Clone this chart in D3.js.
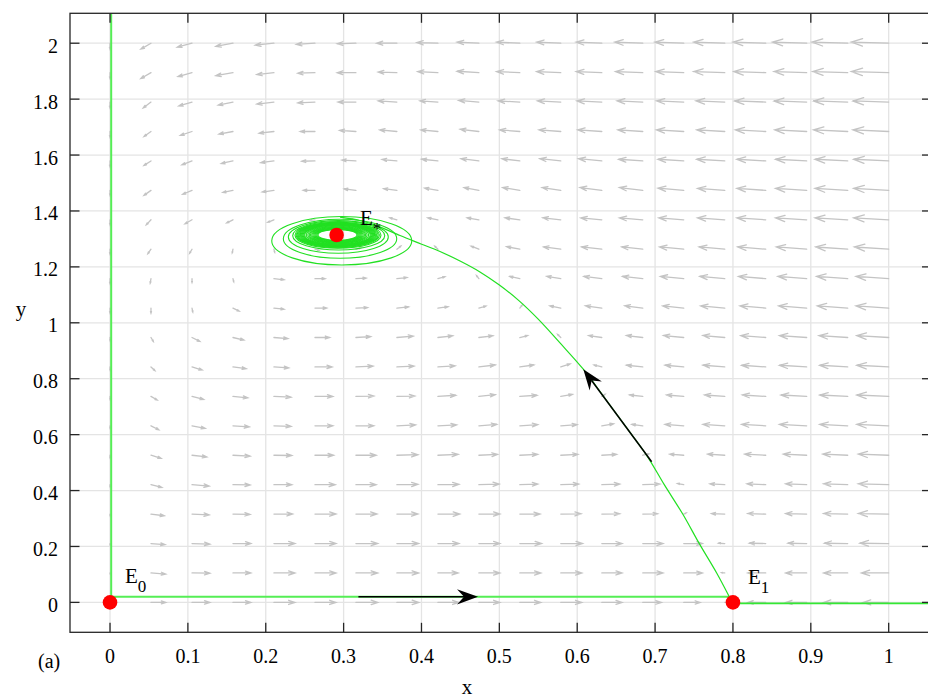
<!DOCTYPE html>
<html><head><meta charset="utf-8">
<script src="https://cdn.jsdelivr.net/npm/d3@7"></script>
<style>
body{margin:0;background:#fff}
svg{display:block}
</style>
</head><body>
<svg id="c" width="928" height="698"></svg>
<script>
// ---------- data ----------
const xTicks = [0,0.1,0.2,0.3,0.4,0.5,0.6,0.7,0.8,0.9,1];
const xTickLabels = ["0","0.1","0.2","0.3","0.4","0.5","0.6","0.7","0.8","0.9","1"];
const yTicks = [0,0.2,0.4,0.6,0.8,1,1.2,1.4,1.6,1.8,2];
const yTickLabels = ["0","0.2","0.4","0.6","0.8","1","1.2","1.4","1.6","1.8","2"];

// quiver grid
const fieldX = [0,0.0526,0.1053,0.1579,0.2105,0.2632,0.3158,0.3684,0.4211,0.4737,0.5263,0.5789,0.6316,0.6842,0.7368,0.7895,0.8421,0.8947,0.9474,1];
const fieldY = [0,0.1053,0.2105,0.3158,0.4211,0.5263,0.6316,0.7368,0.8421,0.9474,1.0526,1.1579,1.2632,1.3684,1.4737,1.5789,1.6842,1.7895,1.8947,2];
// arrow components (thousandths of an axis unit), rows from y=0 upward
const fieldU = [
[0,19,23,23,27,27,28,28,27,27,27,27,26,24,21,8,-23,-27,-31,-33],
[0,19,23,23,27,27,28,28,26,27,27,27,26,26,24,-4,-23,-27,-31,-35],
[0,18,23,23,27,27,28,28,27,27,28,28,26,26,24,-8,-21,-24,-30,-37],
[0,17,22,22,24,27,27,27,28,27,26,26,23,19,3,-17,-23,-27,-31,-39],
[0,14,22,22,23,26,26,27,27,26,23,23,23,22,-8,-19,-24,-27,-31,-39],
[0,13,19,22,23,24,26,27,26,24,23,22,19,8,-18,-22,-27,-30,-32,-39],
[0,10,17,21,22,23,23,24,24,23,23,21,15,-14,-24,-28,-31,-35,-36,-41],
[0,8,15,19,22,23,23,23,23,21,22,15,4,-17,-22,-26,-30,-33,-36,-41],
[0,5,13,17,19,22,22,22,22,21,18,12,-10,-21,-24,-28,-31,-35,-36,-41],
[0,3,10,14,18,19,19,21,19,18,10,-4,-17,-21,-26,-28,-32,-35,-37,-41],
[0,0,1,8,13,15,15,15,13,9,3,-14,-21,-23,-27,-31,-33,-36,-39,-42],
[0,-1,0,1,13,13,13,13,9,-3,-13,-18,-23,-26,-30,-32,-35,-37,-40,-42],
[0,-4,-3,-1,1,5,6,5,-4,-10,-17,-22,-26,-27,-31,-33,-36,-39,-41,-44],
[0,-6,-9,-8,-8,-6,-6,-9,-13,-15,-19,-23,-27,-30,-32,-35,-37,-40,-42,-45],
[0,-9,-12,-13,-15,-15,-15,-17,-17,-19,-22,-24,-28,-30,-33,-35,-37,-40,-42,-45],
[0,-9,-13,-15,-17,-17,-18,-19,-21,-23,-23,-27,-30,-31,-33,-36,-37,-40,-42,-45],
[0,-9,-15,-18,-19,-19,-21,-22,-22,-24,-26,-28,-31,-32,-35,-36,-39,-41,-44,-46],
[0,-10,-17,-19,-22,-22,-23,-24,-23,-26,-28,-30,-32,-33,-35,-37,-40,-42,-44,-46],
[0,-13,-18,-22,-22,-22,-24,-24,-26,-28,-30,-31,-33,-35,-36,-40,-41,-42,-45,-48],
[0,-13,-19,-22,-24,-24,-24,-26,-27,-28,-30,-31,-33,-36,-37,-40,-42,-44,-46,-48]
];
const fieldV = [
[0,0,0,0,0,0,0,0,0,0,0,0,0,0,0,0,0,0,0,0],
[-2,-4,-1,0,0,0,0,0,0,0,0,0,0,0,0,1,0,0,0,0],
[-4,-4,-2,0,0,0,0,0,0,0,0,0,0,0,0,1,1,1,1,1],
[-5,-6,-3,-1,0,0,0,0,0,0,0,1,1,1,4,2,2,2,2,2],
[-7,-10,-5,-1,0,0,0,1,1,2,2,2,2,2,4,3,3,3,3,3],
[-9,-11,-6,-3,-1,0,0,2,3,3,3,3,3,5,4,4,4,4,4,4],
[-9,-14,-9,-4,-2,0,0,3,3,5,4,4,7,5,5,5,5,5,5,5],
[-11,-13,-11,-5,-3,0,1,1,4,6,4,7,7,5,5,5,5,5,5,5],
[-11,-13,-11,-6,-3,0,3,3,4,7,7,11,7,6,6,6,6,6,6,6],
[-11,-14,-14,-9,-4,0,3,5,6,6,7,11,7,7,7,7,7,7,7,7],
[-18,-18,-14,-11,-4,0,2,4,5,7,11,8,8,8,8,8,8,8,8,8],
[-18,-16,-14,-11,-4,0,2,4,7,11,8,8,8,8,8,8,8,8,8,8],
[-18,-16,-14,-13,-11,-4,4,11,11,11,9,8,8,8,8,8,8,8,8,8],
[-18,-18,-14,-11,-9,-2,4,7,7,7,7,7,7,7,7,7,7,7,7,7],
[-18,-18,-14,-7,-6,0,5,6,8,10,10,10,10,10,8,7,7,7,7,7],
[-21,-16,-14,-9,-6,-1,3,5,6,8,8,8,8,6,6,6,6,6,6,6],
[-21,-18,-14,-9,-6,0,4,6,6,8,6,6,6,6,6,6,6,6,6,6],
[-21,-21,-14,-11,-7,-3,0,4,4,6,4,4,4,4,4,4,4,4,4,4],
[-21,-21,-14,-11,-7,-2,0,2,4,5,4,4,4,4,4,4,4,4,4,4],
[-21,-21,-14,-11,-7,-4,-2,0,2,4,4,4,4,4,4,4,4,4,4,4]
];
const fieldUnit = 0.001;

// trajectory: down the y-axis, along the x-axis
const axisTrajX = [0.0015,0.0015,0.7953];
const axisTrajY = [2.11,0.02,0.02];
// unstable manifold of E1 running up to E*
const curveX = [0.7953,0.7791,0.7568,0.7355,0.7118,0.6892,0.6614,0.6335,0.6078,0.5779,0.5496,0.5240,0.4996,0.4751,0.4495,0.4238,0.3994,0.3724,0.3442,0.3210,0.2954];
const curveY = [0.020,0.105,0.210,0.316,0.421,0.526,0.632,0.738,0.834,0.928,1.014,1.082,1.136,1.182,1.221,1.255,1.282,1.312,1.346,1.366,1.378];
// trajectory coming from the right along the x-axis into E1
const traj2X = [1.07,0.8];
const traj2Y = [-0.0036,-0.0036];

// spiral loops around E*
const loopCx = [0.2976,0.2954,0.2932,0.2937,0.2928,0.2925,0.2923,0.2921,0.2921,0.2921,0.2921,0.2921,0.2921,0.2921,0.2921,0.2921,0.2921,0.2921,0.2921,0.2921,0.2921,0.2921,0.2921,0.2921,0.2921,0.2921];
const loopCy = [1.2934,1.3005,1.3070,1.3113,1.3131,1.3136,1.3139,1.3141,1.3141,1.3141,1.3141,1.3141,1.3141,1.3141,1.3141,1.3141,1.3141,1.3141,1.3141,1.3141,1.3141,1.3141,1.3141,1.3141,1.3141,1.3141];
const loopRx = [0.0899,0.0728,0.0642,0.0591,0.0552,0.0535,0.0520,0.0505,0.0492,0.0478,0.0466,0.0454,0.0443,0.0432,0.0421,0.0401,0.0381,0.0363,0.0347,0.0331,0.0316,0.0302,0.0289,0.0276,0.0263,0.0250];
const loopRy = [0.0866,0.0698,0.0583,0.0508,0.0465,0.0450,0.0436,0.0423,0.0411,0.0400,0.0390,0.0379,0.0369,0.0358,0.0347,0.0329,0.0311,0.0293,0.0279,0.0265,0.0250,0.0240,0.0229,0.0218,0.0208,0.0197];

// equilibria
const eqNames = ["E","E","E"];
const eqSubs = ["0","1","*"];
const eqX = [0,0.8,0.291];
const eqY = [0,0,1.314];

// direction arrows (tail -> tip)
const dirTailX = [0.319,0.6956];
const dirTailY = [0.02,0.503];
const dirTipX = [0.4726,0.6078];
const dirTipY = [0.02,0.834];

// ---------- drawing ----------
const FONT = "Liberation Serif";
const svg = d3.select("#c");
const x = d3.scaleLinear().domain([-0.0514,1.055]).range([70,931.5]);
const y = d3.scaleLinear().domain([-0.107,2.107]).range([632.3,13.3]);
const L = x.range()[0], R = x.range()[1], T = y.range()[1], B = y.range()[0];

svg.append("defs").append("clipPath").attr("id","clip")
  .append("rect").attr("x",L).attr("y",T).attr("width",R-L).attr("height",B-T);
const plot = svg.append("g").attr("clip-path","url(#clip)");

// grid
plot.append("g").selectAll("line").data(xTicks).join("line")
  .attr("x1",d=>x(d)).attr("x2",d=>x(d)).attr("y1",T).attr("y2",B)
  .attr("stroke","#e4e4e4").attr("stroke-width",1.3);
plot.append("g").selectAll("line").data(yTicks).join("line")
  .attr("y1",d=>y(d)).attr("y2",d=>y(d)).attr("x1",L).attr("x2",R)
  .attr("stroke","#e4e4e4").attr("stroke-width",1.3);

// quiver
const arrows = [];
fieldY.forEach((yy,j)=>fieldX.forEach((xx,i)=>{
  const u = fieldU[j][i]*fieldUnit, v = fieldV[j][i]*fieldUnit;
  const x0 = x(xx), y0 = y(yy), x1 = x(xx+u), y1 = y(yy+v);
  const len = Math.hypot(x1-x0,y1-y0);
  if (len < 0.5) return;
  const dx=(x1-x0)/len, dy=(y1-y0)/len, nx=-dy, ny=dx;
  const h=0.3*len, w=0.1*len;
  arrows.push(`M${x0},${y0}L${x1},${y1}M${x1-dx*h+nx*w},${y1-dy*h+ny*w}L${x1},${y1}L${x1-dx*h-nx*w},${y1-dy*h-ny*w}`);
}));
plot.append("path").attr("d",arrows.join("")).attr("fill","none")
  .attr("stroke","#c4c4c4").attr("stroke-width",1.3).attr("stroke-linecap","round");

// trajectories
plot.append("path").attr("d",d3.line().x(d=>x(d[0])).y(d=>y(d[1]))(axisTrajX.map((d,i)=>[d,axisTrajY[i]])))
  .attr("fill","none").attr("stroke","#55ee55").attr("stroke-width",2);
plot.append("path").attr("d",d3.line().x(d=>x(d[0])).y(d=>y(d[1])).curve(d3.curveCatmullRom)(curveX.map((d,i)=>[d,curveY[i]])))
  .attr("fill","none").attr("stroke","#22e022").attr("stroke-width",1.2);
plot.append("path").attr("d",d3.line().x(d=>x(d[0])).y(d=>y(d[1]))(traj2X.map((d,i)=>[d,traj2Y[i]])))
  .attr("fill","none").attr("stroke","#33e833").attr("stroke-width",1.6);

// spiral loops
plot.append("g").selectAll("ellipse").data(loopRx).join("ellipse")
  .attr("cx",(d,i)=>x(loopCx[i])).attr("cy",(d,i)=>y(loopCy[i]))
  .attr("rx",(d,i)=>x(loopCx[i]+d)-x(loopCx[i]))
  .attr("ry",(d,i)=>y(loopCy[i])-y(loopCy[i]+loopRy[i]))
  .attr("fill","none").attr("stroke","#22e022").attr("stroke-width",1.1);

// black direction arrows
dirTailX.forEach((tx,k)=>{
  const x0=x(tx), y0=y(dirTailY[k]), x1=x(dirTipX[k]), y1=y(dirTipY[k]);
  const len=Math.hypot(x1-x0,y1-y0), dx=(x1-x0)/len, dy=(y1-y0)/len, nx=-dy, ny=dx;
  const hl=21, hw=7.6, notch=14;
  plot.append("line").attr("x1",x0).attr("y1",y0).attr("x2",x1-dx*notch).attr("y2",y1-dy*notch)
    .attr("stroke","#000").attr("stroke-width",1.5);
  plot.append("path").attr("d",`M${x1},${y1}L${x1-dx*hl+nx*hw},${y1-dy*hl+ny*hw}L${x1-dx*notch},${y1-dy*notch}L${x1-dx*hl-nx*hw},${y1-dy*hl-ny*hw}Z`)
    .attr("fill","#000");
});

// equilibria
plot.append("g").selectAll("circle").data(eqX).join("circle")
  .attr("cx",d=>x(d)).attr("cy",(d,i)=>y(eqY[i])).attr("r",7.3).attr("fill","#ff0000");

// frame & ticks
const ax = svg.append("g").attr("stroke","#262626").attr("stroke-width",1.3).attr("fill","none");
ax.append("rect").attr("x",L).attr("y",T).attr("width",R-L).attr("height",B-T);
const tl = 9.5;
xTicks.forEach(t=>{
  ax.append("line").attr("x1",x(t)).attr("x2",x(t)).attr("y1",B).attr("y2",B-tl);
  ax.append("line").attr("x1",x(t)).attr("x2",x(t)).attr("y1",T).attr("y2",T+tl);
});
yTicks.forEach(t=>{
  ax.append("line").attr("y1",y(t)).attr("y2",y(t)).attr("x1",L).attr("x2",L+tl);
  ax.append("line").attr("y1",y(t)).attr("y2",y(t)).attr("x1",R).attr("x2",R-tl);
});

// tick labels
svg.append("g").selectAll("text").data(xTicks).join("text")
  .attr("font-family",FONT).attr("fill","#000")
  .attr("x",d=>x(d)).attr("y",663).attr("text-anchor","middle").attr("font-size",20)
  .text((d,i)=>xTickLabels[i]);
svg.append("g").selectAll("text").data(yTicks).join("text")
  .attr("font-family",FONT).attr("fill","#000")
  .attr("x",58).attr("y",d=>y(d)+9.5).attr("text-anchor","end").attr("font-size",20)
  .text((d,i)=>yTickLabels[i]);

// axis labels
svg.append("text").attr("font-family",FONT).attr("x",467).attr("y",694).attr("text-anchor","middle").attr("font-size",21).text("x");
svg.append("text").attr("font-family",FONT).attr("x",21).attr("y",316).attr("text-anchor","middle").attr("font-size",21).text("y");
svg.append("text").attr("font-family",FONT).attr("x",38).attr("y",668).attr("font-size",20).text("(a)");

// equilibrium labels
const labelPos = [[125,583],[748,584],[360,225]];
eqNames.forEach((n,i)=>{
  const t = svg.append("text").attr("font-family",FONT).attr("x",labelPos[i][0]).attr("y",labelPos[i][1]).attr("font-size",21);
  t.append("tspan").text(n);
  t.append("tspan").attr("dy",9).attr("font-size",17).text(eqSubs[i]);
});
</script>
</body></html>
